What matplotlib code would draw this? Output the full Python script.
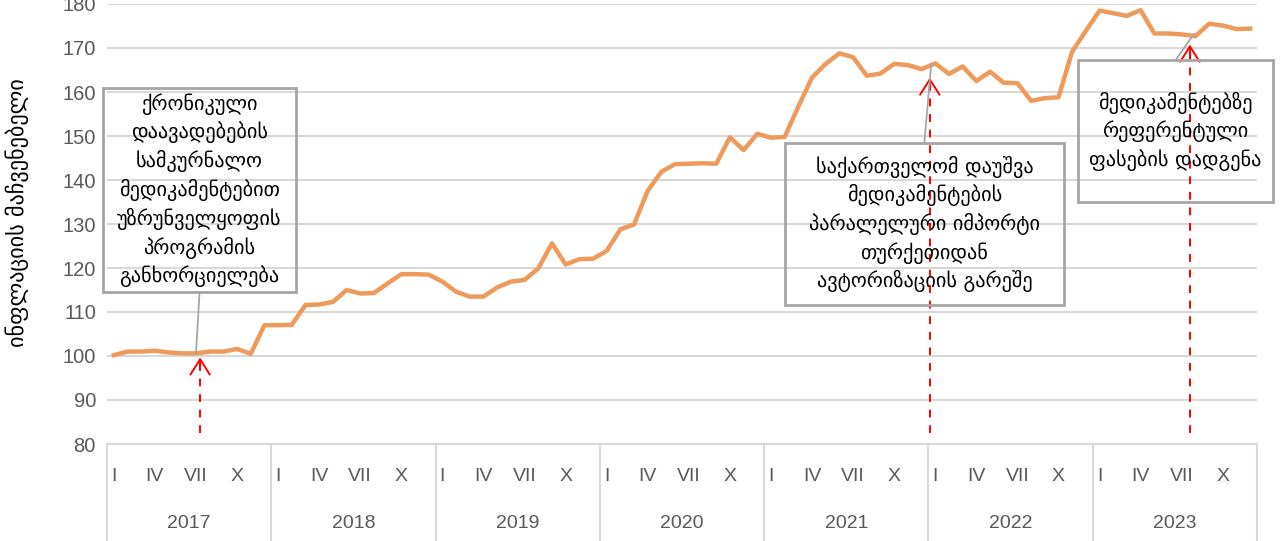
import matplotlib
matplotlib.use('Agg')
import matplotlib.pyplot as plt
import matplotlib.transforms as mtransforms

years = ['2017', '2018', '2019', '2020', '2021', '2022', '2023']
month_labels = ['I', '', '', 'IV', '', '', 'VII', '', '', 'X', '', '']

vals_2017 = [100.2, 101.0, 101.0, 101.2, 100.8, 100.6, 100.6, 101.0, 101.0, 101.6, 100.5, 107.0]
vals_2018 = [107.0, 107.1, 111.6, 111.7, 112.3, 115.0, 114.2, 114.3, 116.5, 118.6, 118.6, 118.5]
vals_2019 = [116.9, 114.6, 113.5, 113.5, 115.6, 116.9, 117.3, 119.9, 125.6, 120.8, 122.0, 122.1]
vals_2020 = [123.9, 128.8, 129.9, 137.6, 141.9, 143.6, 143.7, 143.8, 143.7, 149.7, 146.8, 150.5]
vals_2021 = [149.6, 149.8, 156.7, 163.3, 166.4, 168.8, 167.9, 163.7, 164.2, 166.4, 166.1, 165.2]
vals_2022 = [166.5, 164.1, 165.8, 162.5, 164.6, 162.1, 162.0, 158.0, 158.6, 158.8, 169.2, 173.9]
vals_2023 = [178.5, 177.9, 177.3, 178.6, 173.3, 173.3, 173.1, 172.7, 175.5, 175.1, 174.3, 174.4]

values = vals_2017 + vals_2018 + vals_2019 + vals_2020 + vals_2021 + vals_2022 + vals_2023

# annotations: event text, arrow position/tip, text box centre and size, connector end
events = [
    "ქრონიკული\nდაავადებების\nსამკურნალო\nმედიკამენტებით\nუზრუნველყოფის\nპროგრამის\nგანხორციელება",
    "საქართველომ დაუშვა\nმედიკამენტების\nპარალელური იმპორტი\nთურქეთიდან\nავტორიზაციის გარეშე",
    "მედიკამენტებზე\nრეფერენტული\nფასების დადგენა",
]
event_x = [6.3, 59.6, 78.6]
event_tip = [100.3, 163.9, 171.4]
box_xy = [(6.26, 137.7), (59.2, 130.0), (77.55, 151.1)]
box_wh = [(14.1, 46.4), (20.4, 36.9), (14.25, 32.3)]
line_end = [(6.0, 100.6), (59.7, 166.2), (78.9, 173.2)]

grey = '#595959'
geo = ['DejaVu Sans']

fig = plt.figure(figsize=(12.81, 5.41), dpi=100)
ax = fig.add_axes([107 / 1281, 1 - 444 / 541, 1150 / 1281, 440 / 541])

x = list(range(len(values)))
ax.plot(x, values, color='#EE9A5A', lw=3.2, solid_joinstyle='round', zorder=3)

ax.set_xlim(-0.5, len(values) - 0.5)
ax.set_ylim(80, 180)
ax.set_yticks(range(80, 181, 10))
ax.grid(axis='y', color='#d9d9d9', lw=1.5)
ax.set_axisbelow(True)
for s in ['top', 'right', 'left']:
    ax.spines[s].set_visible(False)
ax.spines['bottom'].set_color('#d9d9d9')
ax.spines['bottom'].set_linewidth(1.5)
ax.tick_params(axis='y', length=0, pad=8, labelsize=14.5, labelcolor=grey)
for t in ax.get_yticklabels():
    t.set_family('Liberation Sans')

ax.set_xticks(x)
ax.set_xticklabels(month_labels * len(years), fontsize=14, color=grey, family='Liberation Sans')
ax.tick_params(axis='x', length=0, pad=17)

trans = mtransforms.blended_transform_factory(ax.transData, ax.transAxes)
for i, yr in enumerate(years):
    ax.text(i * 12 + 5.5, -0.18, yr, transform=trans, ha='center', va='center',
            fontsize=14, color=grey, family='Liberation Sans')
for i in range(len(years) + 1):
    ax.plot([i * 12 - 0.5] * 2, [0, -0.23], transform=trans, color='#d9d9d9',
            lw=1.5, clip_on=False)

ax.set_ylabel('ინფლაციის მაჩვენებელი', fontsize=16, family=geo, color='black')
ax.yaxis.set_label_coords(-0.068, 0.525)

for txt, ex, tip, (bx, by), (bw, bh), (lx, ly) in zip(events, event_x, event_tip, box_xy, box_wh, line_end):
    # red dashed arrow
    ax.plot([ex, ex], [82.5, tip - 0.4], color='red', lw=1.4, ls=(0, (4, 4)), zorder=4)
    ax.annotate('', xy=(ex, tip), xytext=(ex, tip - 4),
                arrowprops=dict(arrowstyle='->,head_length=1.1,head_width=0.7',
                                color='red', lw=1.4), zorder=4)
    # box + connector
    rect = plt.Rectangle((bx - bw / 2, by - bh / 2), bw, bh, fill=False,
                         ec='#a6a6a6', lw=2, zorder=5, clip_on=False)
    ax.add_patch(rect)
    top = by + bh / 2 if ly > by else by - bh / 2
    ax.plot([bx, lx], [top, ly], color='#a6a6a6', lw=1.3, zorder=5)
    ax.text(bx, by, txt, ha='center', va='center', fontsize=14.6, family=geo,
            linespacing=1.4, zorder=6)

fig.savefig('out.png', dpi=100)
